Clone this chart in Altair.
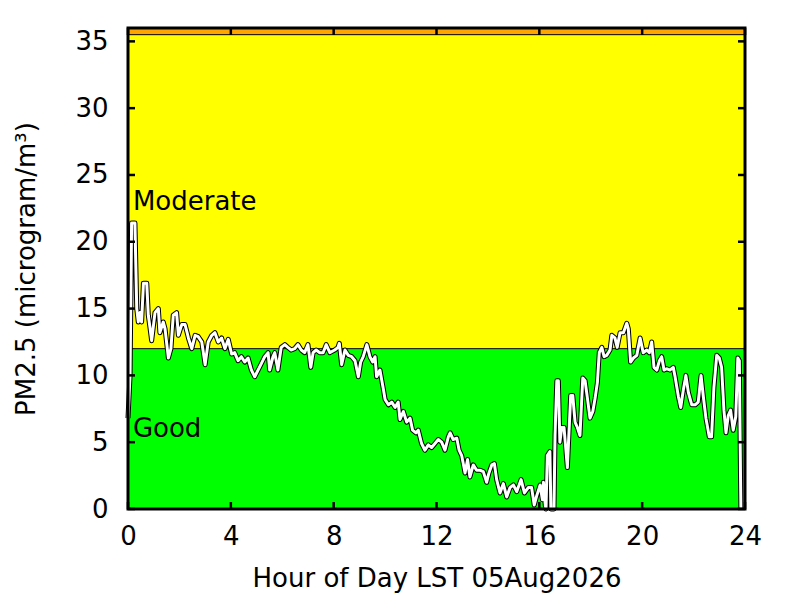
import altair as alt
import pandas as pd

# PM2.5 time series (hour of day, microgram/m3)
hours = [0.00, 0.08, 0.14, 0.27, 0.34, 0.40, 0.47, 0.53, 0.60, 0.73, 0.79, 0.86, 0.92,
         1.05, 1.18, 1.24, 1.37, 1.44, 1.57, 1.67, 1.76, 1.89, 1.96, 2.09, 2.22, 2.35,
         2.48, 2.61, 2.73, 2.87, 3.00, 3.12, 3.26, 3.38, 3.51, 3.64, 3.77, 3.90, 4.03,
         4.15, 4.28, 4.41, 4.54, 4.67, 4.80, 4.93, 5.06, 5.19, 5.32, 5.45, 5.51, 5.64,
         5.71, 5.83, 5.96, 6.10, 6.22, 6.35, 6.48, 6.61, 6.74, 6.87, 7.00, 7.11, 7.20,
         7.32, 7.46, 7.59, 7.71, 7.85, 8.04, 8.17, 8.22, 8.31, 8.44, 8.57, 8.70, 8.83,
         8.96, 9.05, 9.15, 9.29, 9.41, 9.52, 9.61, 9.67, 9.80, 9.93, 10.00, 10.13,
         10.26, 10.39, 10.51, 10.58, 10.71, 10.84, 10.97, 11.07, 11.20, 11.29, 11.42,
         11.55, 11.68, 11.81, 11.94, 12.07, 12.20, 12.33, 12.46, 12.53, 12.65, 12.79,
         12.88, 12.98, 13.11, 13.21, 13.30, 13.43, 13.56, 13.69, 13.82, 13.95, 14.04,
         14.15, 14.25, 14.34, 14.47, 14.60, 14.73, 14.86, 14.99, 15.12, 15.29, 15.42,
         15.57, 15.70, 15.80, 15.90, 16.03, 16.12, 16.16, 16.23, 16.26, 16.31, 16.41,
         16.45, 16.57, 16.61, 16.68, 16.74, 16.80, 16.87, 16.96, 17.09, 17.22, 17.30,
         17.39, 17.48, 17.58, 17.69, 17.78, 17.87, 17.97, 18.08, 18.17, 18.26, 18.33,
         18.43, 18.52, 18.62, 18.75, 18.82, 18.94, 19.03, 19.14, 19.27, 19.40, 19.46,
         19.55, 19.66, 19.79, 19.92, 20.04, 20.18, 20.28, 20.37, 20.46, 20.57, 20.67,
         20.76, 20.85, 20.95, 21.08, 21.21, 21.28, 21.41, 21.50, 21.60, 21.70, 21.80,
         21.93, 22.06, 22.18, 22.29, 22.38, 22.48, 22.61, 22.70, 22.79, 22.90, 23.00,
         23.09, 23.18, 23.26, 23.35, 23.44, 23.54, 23.64, 23.72, 23.78, 23.83, 23.84]
pm25 = [6.8, 10.0, 21.4, 21.4, 15.0, 14.0, 14.7, 14.0, 16.9, 16.9, 14.5, 13.5, 12.6,
        14.7, 15.0, 13.2, 14.0, 13.5, 11.3, 12.0, 14.5, 14.7, 13.0, 13.8, 13.8, 12.8,
        12.0, 13.0, 12.9, 12.5, 10.8, 12.5, 13.0, 13.2, 12.5, 12.8, 12.0, 12.7, 11.6,
        11.7, 11.1, 11.4, 11.0, 11.3, 10.4, 9.9, 10.4, 10.9, 11.4, 11.7, 10.4, 11.4,
        11.7, 10.4, 12.1, 12.3, 12.1, 11.9, 12.0, 12.3, 11.9, 11.7, 12.3, 10.6, 11.7,
        11.9, 11.7, 11.7, 12.3, 11.7, 11.9, 12.1, 12.4, 10.8, 11.9, 11.5, 11.4, 11.1,
        9.9, 11.0, 11.4, 12.3, 11.4, 11.0, 11.4, 9.9, 10.4, 9.0, 8.2, 7.8,
        8.0, 7.6, 8.0, 6.7, 7.3, 6.5, 6.8, 5.9, 5.7, 5.9, 4.9,
        4.4, 4.8, 4.6, 4.9, 5.2, 5.0, 4.4, 5.4, 5.7, 5.2, 5.3,
        4.4, 4.0, 2.7, 3.7, 2.4, 3.3, 2.9, 2.9, 2.8, 2.0, 2.7,
        3.3, 3.4, 2.2, 1.2, 1.9, 0.9, 1.6, 1.8, 1.3, 2.2, 1.2,
        1.6, 1.6, 0.3, 1.0, 1.8, 0.7, 2.0, 0.3, 0.0, 4.0, 4.3,
        0.0, 0.0, 5.5, 9.6, 9.6, 5.0, 6.1, 6.1, 3.1, 8.5, 8.5,
        6.5, 6.1, 5.5, 9.8, 9.6, 8.3, 6.8, 7.3, 8.3, 9.5, 11.7,
        12.1, 11.4, 11.5, 11.9, 13.0, 12.8, 12.1, 13.2, 13.2, 13.9, 13.5,
        11.0, 11.3, 11.5, 12.8, 11.7, 11.9, 11.7, 12.5, 10.6, 10.4, 11.1,
        11.4, 10.4, 10.5, 10.4, 10.6, 9.9, 8.4, 7.6, 8.9, 10.0, 8.7,
        7.8, 7.8, 8.0, 10.0, 8.4, 6.8, 5.4, 5.4, 9.1, 11.5, 11.3,
        10.6, 7.4, 5.7, 7.0, 7.4, 5.9, 6.9, 11.3, 11.1, 1.6, 0.0]

# AQI category bands
band_names = ["Good", "Moderate", "Unhealthy for Sensitive Groups"]
band_lo = [0, 12, 35.5]
band_hi = [12, 35.5, 36]
band_colors = ["#00ff00", "#ffff00", "#ffa500"]

x_ticks = [0, 4, 8, 12, 16, 20, 24]
y_ticks = [0, 5, 10, 15, 20, 25, 30, 35]

label_names = ["Moderate", "Good"]
label_h = [0.19, 0.19]
label_v = [22.4, 5.4]

W, H = 617, 481
FONT = "DejaVu Sans"
TL = 7  # inward tick length

df = pd.DataFrame({"h": hours, "v": pm25})
bands = pd.DataFrame({"cat": band_names, "lo": band_lo, "hi": band_hi})
bounds = pd.DataFrame({"b": band_lo[1:]})
xt = pd.DataFrame({"h": x_ticks})
yt = pd.DataFrame({"v": y_ticks})
labels = pd.DataFrame({"h": label_h, "v": label_v, "t": label_names})

xs = alt.Scale(domain=[0, 24], nice=False, zero=False)
ys = alt.Scale(domain=[0, 36], nice=False, zero=False)

xax = alt.Axis(values=x_ticks, tickSize=0, domain=False, grid=False,
               labelFont=FONT, labelFontSize=26, labelColor="black",
               labelPadding=14, labelFlush=False,
               title="Hour of Day LST 05Aug2026", titleFont=FONT,
               titleFontSize=26, titleFontWeight="normal", titleColor="black",
               titlePadding=16)
yax = alt.Axis(values=y_ticks, tickSize=0, domain=False, grid=False,
               labelFont=FONT, labelFontSize=26, labelColor="black",
               labelPadding=20, labelFlush=False,
               title="PM2.5 (microgram/m³)", titleFont=FONT,
               titleFontSize=26, titleFontWeight="normal", titleColor="black",
               titlePadding=35)

X = lambda f: alt.X(f, type="quantitative", scale=xs, axis=xax)
Y = lambda f: alt.Y(f, type="quantitative", scale=ys, axis=yax)

band_layer = alt.Chart(bands).mark_rect().encode(
    x=alt.value(0), x2=alt.value(W),
    y=Y("lo"), y2="hi",
    color=alt.Color("cat:N", scale=alt.Scale(domain=band_names, range=band_colors),
                    legend=None),
)

bound_layer = alt.Chart(bounds).mark_rule(color="black", strokeWidth=1).encode(
    y=Y("b"), x=alt.value(0), x2=alt.value(W)
)

line_outline = alt.Chart(df).mark_line(color="black", strokeWidth=5,
                                       strokeJoin="round").encode(
    x=X("h"), y=Y("v"), order="h:Q"
)
line_inner = alt.Chart(df).mark_line(color="white", strokeWidth=3,
                                     strokeJoin="round").encode(
    x=X("h"), y=Y("v"), order="h:Q"
)

text_layer = alt.Chart(labels).mark_text(
    font=FONT, fontSize=26, color="black", align="left", baseline="alphabetic"
).encode(x=X("h"), y=Y("v"), text="t:N")

tick_left = alt.Chart(yt).mark_rule(color="black", strokeWidth=2.5).encode(
    y=Y("v"), x=alt.value(0), x2=alt.value(TL))
tick_right = alt.Chart(yt).mark_rule(color="black", strokeWidth=2.5).encode(
    y=Y("v"), x=alt.value(W - TL), x2=alt.value(W))
tick_bottom = alt.Chart(xt).mark_rule(color="black", strokeWidth=2.5).encode(
    x=X("h"), y=alt.value(H - TL), y2=alt.value(H))
tick_top = alt.Chart(xt).mark_rule(color="black", strokeWidth=2.5).encode(
    x=X("h"), y=alt.value(0), y2=alt.value(TL))

frame = alt.Chart(pd.DataFrame({"a": [0]})).mark_rect(
    filled=False, stroke="black", strokeWidth=3
).encode(x=alt.value(0), x2=alt.value(W), y=alt.value(0), y2=alt.value(H))

chart = alt.layer(
    band_layer, bound_layer, line_outline, line_inner, text_layer,
    tick_left, tick_right, tick_bottom, tick_top, frame
).properties(
    width=W, height=H,
    autosize=alt.AutoSizeParams(type="none"),
    padding={"left": 120, "top": 20, "right": 40, "bottom": 84},
    background="white",
).configure_view(stroke=None)

chart.save("out.html", embed_options={"renderer": "svg", "actions": False})
